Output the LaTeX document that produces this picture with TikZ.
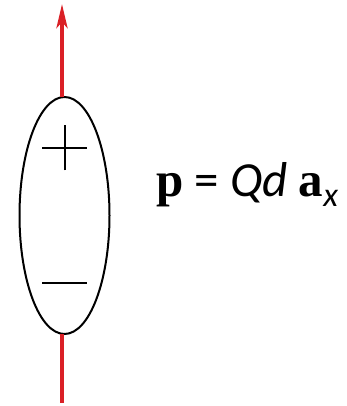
\documentclass[tikz,border=0pt]{standalone}
\usepackage{fontspec}
\setmainfont{Carlito}
\newfontfamily\serifb{Liberation Serif}
\usetikzlibrary{arrows.meta,shapes.geometric}
\definecolor{arrred}{RGB}{218,32,38}
\begin{document}
\begin{tikzpicture}[x=1pt,y=1pt,
  wire/.style={draw=arrred,line width=4pt},
  sign/.style={draw=black,line width=2pt},
  body/.style={draw=black,line width=2pt,ellipse,minimum width=90pt,minimum height=237pt,inner sep=0pt}]
\useasboundingbox (0,0) rectangle (346,406);
\node[body] (e) at (64.5,190.5) {};
\coordinate (top) at (62,309);
\coordinate (tip) at (62,402);
\coordinate (bot) at (62,72);
\coordinate (end) at (62,3);
\draw[wire,-{Stealth[length=24pt,width=11pt,inset=6pt]}] (top) -- (tip);
\draw[wire] (bot) -- (end);
\coordinate (pc) at (64.5,258);
\draw[sign] ([xshift=-22.5pt]pc) -- ([xshift=22.5pt]pc);
\draw[sign] ([yshift=-22.5pt]pc) -- ([yshift=22.5pt]pc);
\coordinate (mc) at (64.5,123);
\draw[sign] ([xshift=-22.5pt]mc) -- ([xshift=22.5pt]mc);
\node[anchor=base west,inner sep=0pt,font=\fontsize{49}{56}\selectfont] (eq) at (156,209)
  {{\serifb\bfseries p} = \textit{Qd} {\serifb\bfseries a}\raisebox{-10pt}{\fontsize{34}{38}\selectfont\itshape x}};
\end{tikzpicture}
\end{document}
